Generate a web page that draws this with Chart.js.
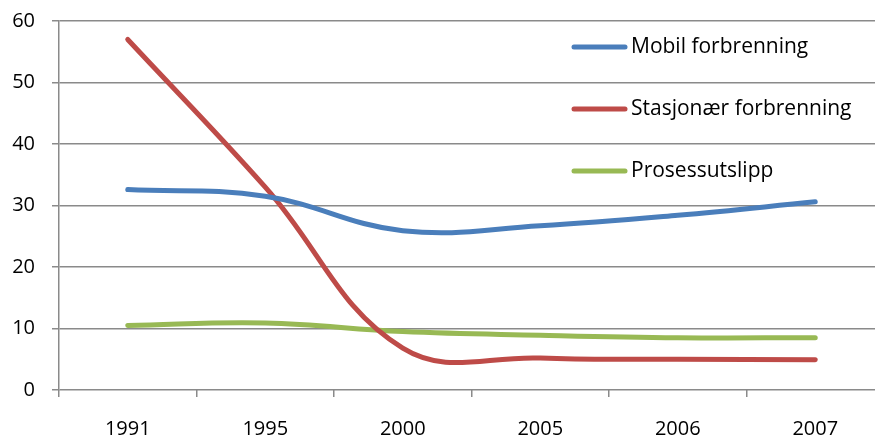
<!DOCTYPE html>
<html>
<head>
<meta charset="utf-8">
<script src="https://cdn.jsdelivr.net/npm/chart.js@4"></script>
<style>
  html, body { margin: 0; padding: 0; background: #fff; overflow: hidden; }
  #wrap { width: 886px; height: 439px; }
</style>
</head>
<body>
<div id="wrap"><canvas id="utslippChart"></canvas></div>
<script>
var years = ["1991", "1995", "2000", "2005", "2006", "2007"];
var mobil = [32.6, 31.5, 25.9, 26.7, 28.4, 30.6];
var stasjonaer = [57.0, 33.0, 6.8, 5.2, 5.0, 4.9];
var prosess = [10.5, 10.9, 9.5, 8.9, 8.5, 8.5];
var yTicks = [0, 10, 20, 30, 40, 50, 60];

var gridColor = "#8a8a8a";
var fontFam = "'Open Sans', sans-serif";

// legend drawn inside the plot, Excel style
var insideLegend = {
  id: "insideLegend",
  afterDraw: function(chart) {
    let ctx = chart.ctx;
    ctx.save();
    ctx.font = "21px " + fontFam;
    ctx.textBaseline = "middle";
    ctx.fillStyle = "#000";
    chart.data.datasets.forEach(function(ds, i) {
      let y = 47 + i * 62;
      ctx.strokeStyle = ds.borderColor;
      ctx.lineWidth = 5;
      ctx.lineCap = "round";
      ctx.beginPath();
      ctx.moveTo(574, y);
      ctx.lineTo(625, y);
      ctx.stroke();
      ctx.fillText(ds.label, 631, y);
    });
    ctx.restore();
  }
};

function makeDataset(label, data, color) {
  return {
    label: label,
    data: data,
    borderColor: color,
    backgroundColor: color,
    borderWidth: 5,
    borderCapStyle: "round",
    pointRadius: 0,
    tension: 0.4,
    fill: false
  };
}

let ctx = document.getElementById("utslippChart").getContext("2d");
let chart = new Chart(ctx, {
  type: "line",
  data: {
    labels: years,
    datasets: [
      makeDataset("Mobil forbrenning", mobil, "#4a7ebb"),
      makeDataset("Stasjonær forbrenning", stasjonaer, "#be4b48"),
      makeDataset("Prosessutslipp", prosess, "#98b954")
    ]
  },
  options: {
    responsive: true,
    maintainAspectRatio: false,
    animation: false,
    layout: { padding: { left: 0, right: 2, top: 21, bottom: 0 } },
    plugins: {
      legend: { display: false },
      tooltip: { enabled: false }
    },
    scales: {
      x: {
        offset: true,
        afterFit: function(axis) { axis.height = 49; },
        grid: {
          offset: true,
          drawOnChartArea: false,
          drawTicks: true,
          tickLength: 7,
          color: gridColor,
          lineWidth: 1.5
        },
        border: { display: false },
        ticks: {
          color: "#000",
          font: { family: fontFam, size: 20 },
          padding: 20,
          maxRotation: 0
        }
      },
      y: {
        min: 0,
        max: 60,
        afterFit: function(axis) {
          axis.width = 59;
          axis.paddingTop = 0;
          axis.paddingBottom = 0;
        },
        afterBuildTicks: function(axis) {
          axis.ticks = yTicks.map(function(v) { return { value: v }; });
        },
        grid: {
          color: gridColor,
          lineWidth: 1.5,
          tickLength: 7
        },
        border: { color: gridColor, width: 1.5 },
        ticks: {
          color: "#000",
          font: { family: fontFam, size: 20 },
          padding: 17
        }
      }
    }
  },
  plugins: [insideLegend]
});
</script>
</body>
</html>
